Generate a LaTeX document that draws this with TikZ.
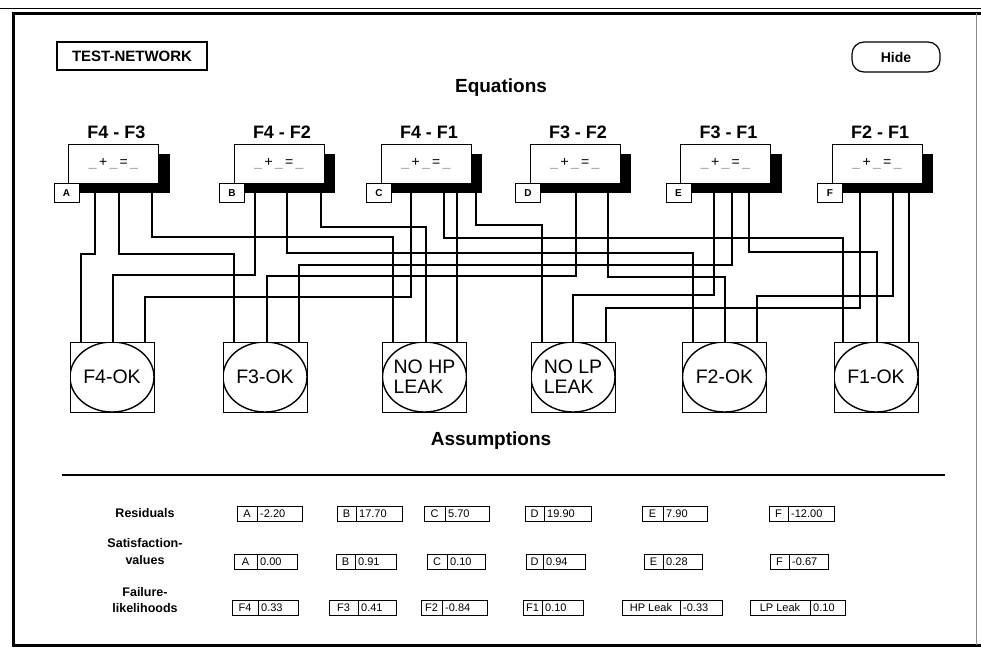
\documentclass[tikz,border=0pt]{standalone}
\usepackage{fontspec}
\setmainfont{Liberation Sans}
\usepackage{tikz}
\usetikzlibrary{positioning}
\definecolor{tnslot}{HTML}{9A9A9A}
\definecolor{tnedge}{HTML}{8C8C8C}
\tikzset{
  every picture/.style={line join=miter},
  frameline/.style={black, line width=3pt},
  wire/.style={black, line width=1.3pt},
  eqbox/.style={draw, fill=white, line width=0.8pt, minimum width=90pt,
    minimum height=39pt, inner sep=0pt, outer sep=0pt,
    font=\fontsize{14}{14}\selectfont},
  eqshadow/.style={fill=black},
  tagbox/.style={draw, fill=white, line width=0.8pt, minimum width=25pt,
    minimum height=19pt, inner sep=0pt, font=\fontsize{10}{10}\selectfont\bfseries},
  eqtitle/.style={font=\fontsize{18}{18}\selectfont\bfseries},
  heading/.style={font=\fontsize{19}{19}\selectfont\bfseries},
  asmbox/.style={draw, line width=0.8pt, minimum width=84pt, minimum height=70pt,
    inner sep=0pt, align=left, font=\fontsize{19.5}{20}\selectfont,
    path picture={\draw[line width=1.4pt] (path picture bounding box.center)
      ellipse [x radius=42pt, y radius=35pt];}},
  rowlbl/.style={font=\fontsize{12.5}{16.5}\selectfont\bfseries, align=center},
  celltxt/.style={font=\fontsize{11}{11}\selectfont, inner sep=0pt},
  cellline/.style={line width=0.9pt},
}
\newcommand{\eqslots}{{\color{tnslot}\_}\,+\,{\color{tnslot}\_}\,=\,{\color{tnslot}\_}}
% a wire: down from the equation, across at a level, down into the assumption
\newcommand{\route}[3]{\draw[wire] (#1) -- (#1 |- 0,#2) -| (#3);}
% a key/value cell of the bottom table
\newcommand{\valcell}[7]{%
  \draw[cellline] (#2,#5-7.5) rectangle (#4,#5+7.5) (#3,#5-7.5) -- (#3,#5+7.5);
  \node[celltxt] (#1k) at ({(#2+#3)/2},#5) {#6};
  \node[celltxt, anchor=west] (#1v) at (#3+3,#5) {#7};}

\begin{document}
\begin{tikzpicture}[x=1pt, y=-1pt]
\useasboundingbox (0,0) rectangle (981,654);
% the window frame
\draw[black, line width=1pt] (0,8) -- (981,8);
\draw[frameline] (11.5,13) -- (981,13);
\draw[frameline] (13,11.5) -- (13,645);
\draw[frameline] (11.5,645) -- (981,645);
\draw[tnedge, line width=0.8pt] (976,13) -- (976,645);
% buttons and headings
\node[draw, line width=1.2pt, minimum width=150pt, minimum height=28pt,
  font=\fontsize{15}{15}\selectfont\bfseries] (title) at (132,56) {TEST-NETWORK};
\node[draw, line width=1.2pt, rounded corners=12pt, minimum width=88pt, minimum height=30pt,
  font=\fontsize{14}{14}\selectfont\bfseries] (hide) at (896,57) {Hide};
\node[heading] (eqhead) at (501,88) {Equations};
\node[heading] (asmhead) at (491,441) {Assumptions};
% terminals of the equations
\foreach \n/\x in {A1/95, A2/119, A3/152, B1/255, B2/287, B3/321,
  C1/411, C2/444, C3/457, C4/476, D1/576, D2/608,
  E1/714, E2/732, E3/749, F1/860, F2/893, F3/909}
  \coordinate (e\n) at (\x,185);
% terminals of the assumptions
\foreach \n/\x in {F4a/81, F4b/113, F4c/145, F3a/234, F3b/267, F3c/299,
  HPa/393, HPb/426, HPc/457, LPa/542, LPb/573, LPc/606,
  F2a/693, F2b/725, F2c/757, F1a/843, F1b/877, F1c/909}
  \coordinate (t\n) at (\x,342);
% the wires
\route{eA1}{254}{tF4a}
\route{eA2}{254}{tF3a}
\route{eA3}{237}{tHPa}
\route{eB1}{275}{tF4b}
\route{eB2}{253}{tF2a}
\route{eB3}{227}{tHPb}
\route{eC1}{297}{tF4c}
\route{eC2}{238}{tF1a}
\draw[wire] (eC3) -- (tHPc);
\route{eC4}{225}{tLPa}
\route{eD1}{276}{tF3b}
\route{eD2}{277}{tF2b}
\route{eE1}{295}{tLPb}
\route{eE2}{265}{tF3c}
\route{eE3}{252}{tF1b}
\route{eF1}{308}{tLPc}
\route{eF2}{296}{tF2c}
\draw[wire] (eF3) -- (tF1c);
% the equations
\foreach \n/\cx/\ttl in {A/113.5/F4 - F3, B/279/F4 - F2, C/426/F4 - F1,
  D/575/F3 - F2, E/725.5/F3 - F1, F/877/F2 - F1} {
  \fill[eqshadow] (\cx-34,154) rectangle (\cx+56,193);
  \node[eqbox] (eq\n) at (\cx,163.5) {\eqslots};
  \node[tagbox, anchor=north west] (tag\n) at (\cx-60,183) {\n};
  \node[eqtitle] (ttl\n) at (\cx+3,132) {\ttl};
}
% the assumptions
\foreach \n/\cx/\txt in {F4/112/F4-OK, F3/265/F3-OK, HP/424.5/{NO HP\\LEAK},
  LP/573/{NO LP\\LEAK}, F2/724.5/F2-OK, F1/876/F1-OK}
  \node[asmbox] (as\n) at (\cx,377) {\txt};
% the table
\draw[line width=1.5pt] (62,475) -- (945,475);
\node[rowlbl] (lblres) at (145,513) {Residuals};
\node[rowlbl] (lblsat) at (145,551.5) {Satisfaction-\\values};
\node[rowlbl] (lblfail) at (145,600) {Failure-\\likelihoods};
\foreach \n/\l/\d/\r/\k/\v in {rA/237/257/302/A/-2.20, rB/337/356/402/B/17.70,
  rC/424/445/489/C/5.70, rD/525/544/591/D/19.90, rE/642/663/707/E/7.90,
  rF/769/788/834/F/-12.00} {
  \valcell{\n}{\l}{\d}{\r}{514}{\k}{\v}
}
\foreach \n/\l/\d/\r/\k/\v in {sA/234/257/297/A/0.00, sB/336/355/396/B/0.91,
  sC/427/447/485/C/0.10, sD/526/543/585/D/0.94, sE/644/663/702/E/0.28,
  sF/770/789/828/F/-0.67} {
  \valcell{\n}{\l}{\d}{\r}{562}{\k}{\v}
}
\foreach \n/\l/\d/\r/\k/\v in {fF4/232/258/298/F4/0.33, fF3/329/358/396/F3/0.41,
  fF2/421/442/487/F2/-0.84, fF1/523/542/583/F1/0.10,
  fHP/622/680/722/HP Leak/-0.33, fLP/750/810/845/LP Leak/0.10} {
  \valcell{\n}{\l}{\d}{\r}{608}{\k}{\v}
}
\end{tikzpicture}
\end{document}
